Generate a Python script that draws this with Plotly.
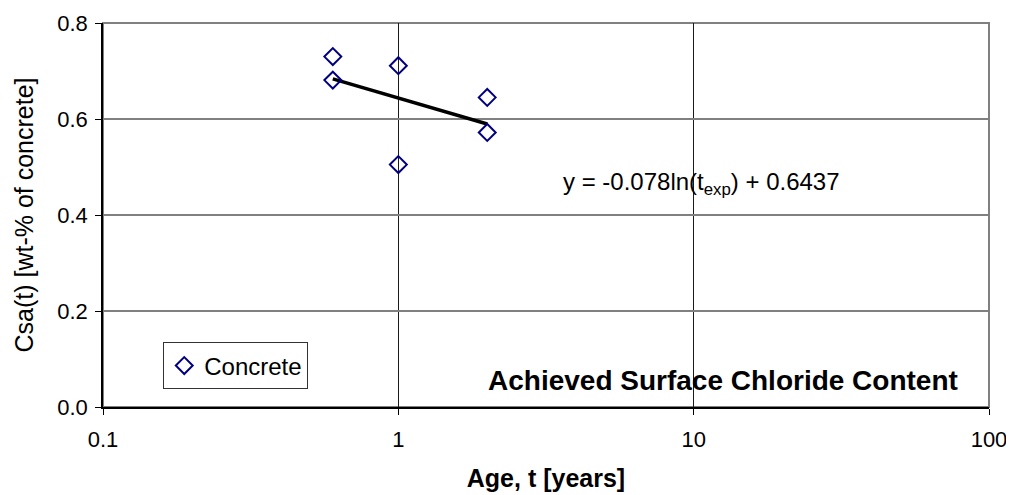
import numpy as np
import plotly.graph_objects as go

age = [0.6, 0.6, 1.0, 1.0, 2.0, 2.0]
csa = [0.730, 0.681, 0.711, 0.505, 0.645, 0.572]

# trendline: y = -0.078 ln(t) + 0.6437
trend_a = -0.078
trend_b = 0.6437
trend_t = np.linspace(min(age), max(age), 50)
trend_y = trend_a * np.log(trend_t) + trend_b

x_ticks = [0.1, 1, 10, 100]
x_ticklabels = ["0.1", "1", "10", "100"]
y_ticks = [0.0, 0.2, 0.4, 0.6, 0.8]
y_ticklabels = ["0.0", "0.2", "0.4", "0.6", "0.8"]

font = "Liberation Sans, Arial, sans-serif"

fig = go.Figure()
fig.add_trace(go.Scatter(
    x=trend_t, y=trend_y, mode="lines",
    line=dict(color="black", width=3.5), showlegend=False, hoverinfo="skip"))
fig.add_trace(go.Scatter(
    x=age, y=csa, mode="markers", name="Concrete",
    marker=dict(symbol="diamond-open", size=13, color="#000080",
                line=dict(width=2, color="#000080"))))

fig.update_layout(
    width=1006, height=487,
    margin=dict(l=95, r=25, t=15, b=88, autoexpand=False),
    paper_bgcolor="white", plot_bgcolor="white",
    font=dict(family=font, size=23, color="black"),
    legend=dict(x=0.068, y=0.107, xanchor="left", yanchor="middle",
                bgcolor="white", bordercolor="#333333", borderwidth=1,
                font=dict(size=24), itemwidth=30, tracegroupgap=0),
    xaxis=dict(type="log", range=[-1, 2], tickvals=x_ticks, ticktext=x_ticklabels,
               showgrid=True, gridcolor="#1a1a1a", gridwidth=1,
               showline=True, linecolor="black", linewidth=1.5,
               ticks="outside", ticklen=6, tickcolor="black",
               mirror=False, zeroline=False, tickfont=dict(size=22),
               ticklabelstandoff=6, automargin=False,
               title=dict(text="<b>Age, t [years]</b>", font=dict(size=25), standoff=18)),
    yaxis=dict(range=[0, 0.8], tickvals=y_ticks, ticktext=y_ticklabels,
               showgrid=True, gridcolor="#808080", gridwidth=1.5,
               showline=True, linecolor="black", linewidth=1.5,
               ticks="outside", ticklen=6, tickcolor="black",
               zeroline=False, tickfont=dict(size=22),
               ticklabelstandoff=3, automargin=False,
               title=dict(text="Csa(t) [wt-% of concrete]", font=dict(size=25), standoff=17)),
)

# plot border on top/right (gray)
fig.add_shape(type="rect", xref="paper", yref="paper", x0=0, y0=0, x1=1, y1=1,
              line=dict(color="#808080", width=2), layer="below")

fig.add_annotation(x=0.676, y=0.583, xref="paper", yref="paper",
                   text="y = -0.078ln(t<sub>exp</sub>) + 0.6437",
                   showarrow=False, xanchor="center", yanchor="middle",
                   font=dict(size=24))
fig.add_annotation(x=0.70, y=0.07, xref="paper", yref="paper",
                   text="<b>Achieved Surface Chloride Content</b>",
                   showarrow=False, xanchor="center", yanchor="middle",
                   font=dict(size=28))

fig.write_html("out.html")
